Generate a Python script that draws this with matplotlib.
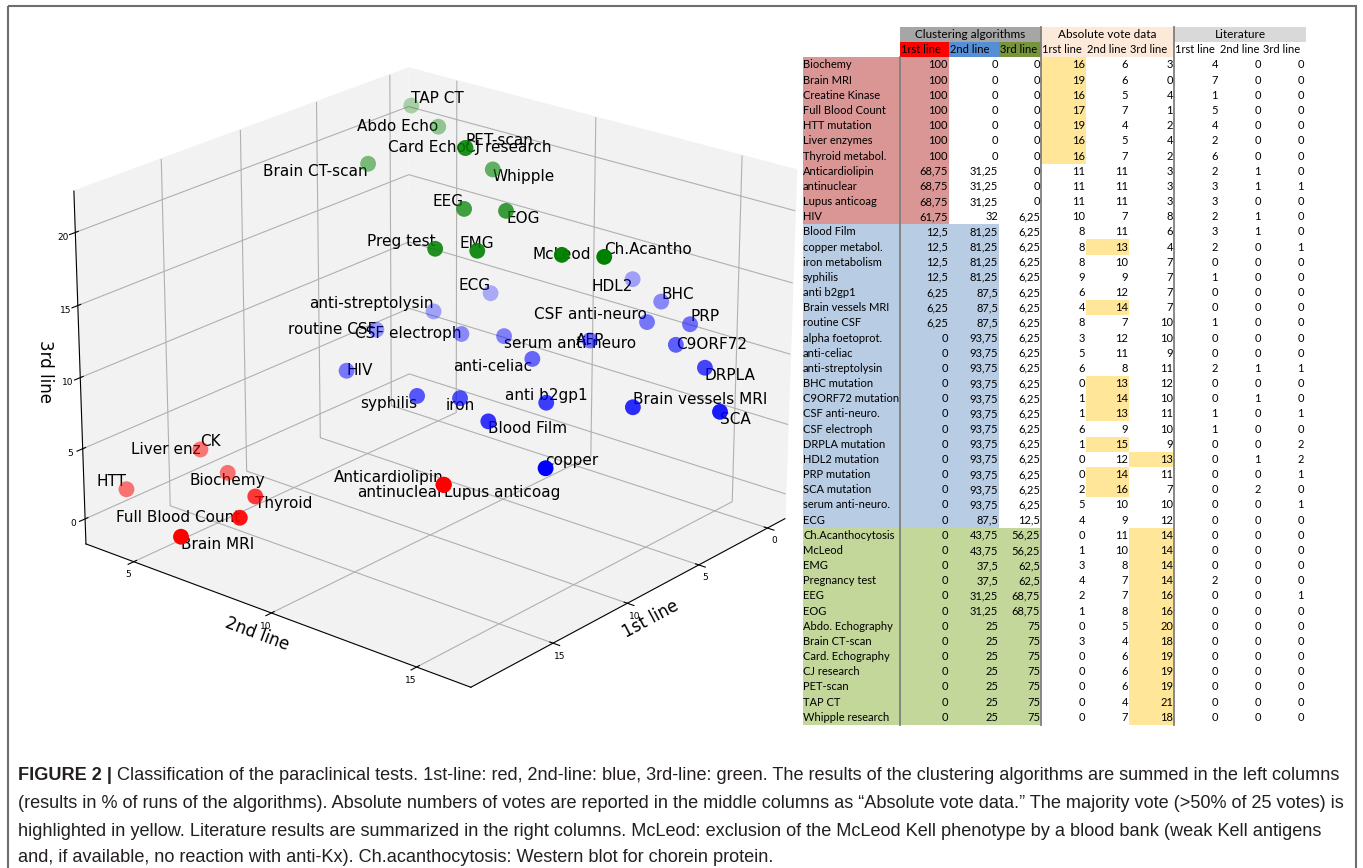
import numpy as np
import matplotlib
matplotlib.use('Agg')
from matplotlib import pyplot as plt
from matplotlib.patches import Rectangle

# Dati: voti assoluti (1st, 2nd, 3rd line) e risultati clustering / letteratura
names = ['Biochemy', 'Brain MRI', 'Creatine Kinase', 'Full Blood Count', 'HTT mutation',
         'Liver enzymes', 'Thyroid metabol.', 'Anticardiolipin', 'antinuclear',
         'Lupus anticoag', 'HIV', 'Blood Film', 'copper metabol.', 'iron metabolism',
         'syphilis', 'anti b2gp1', 'Brain vessels MRI', 'routine CSF', 'alpha foetoprot.',
         'anti-celiac', 'anti-streptolysin', 'BHC mutation', 'C9ORF72 mutation',
         'CSF anti-neuro.', 'CSF electroph', 'DRPLA mutation', 'HDL2 mutation',
         'PRP mutation', 'SCA mutation', 'serum anti-neuro.', 'ECG', 'Ch.Acanthocytosis',
         'McLeod', 'EMG', 'Pregnancy test', 'EEG', 'EOG', 'Abdo. Echography',
         'Brain CT-scan', 'Card. Echography', 'CJ research', 'PET-scan', 'TAP CT',
         'Whipple research']
short = ['Biochemy', 'Brain MRI', 'CK', 'Full Blood Count', 'HTT', 'Liver enz', 'Thyroid',
         'Anticardiolipin', 'antinuclear', 'Lupus anticoag', 'HIV', 'Blood Film', 'copper',
         'iron', 'syphilis', 'anti b2gp1', 'Brain vessels MRI', 'routine CSF', 'AFP',
         'anti-celiac', 'anti-streptolysin', 'BHC', 'C9ORF72', 'CSF anti-neuro',
         'CSF electroph', 'DRPLA', 'HDL2', 'PRP', 'SCA', 'serum anti-neuro', 'ECG',
         'Ch.Acantho', 'McLeod', 'EMG', 'Preg test', 'EEG', 'EOG', 'Abdo Echo',
         'Brain CT-scan', 'Card Echo', 'CJ research', 'PET-scan', 'TAP CT', 'Whipple']
clust1 = [100, 100, 100, 100, 100, 100, 100, 68.75, 68.75, 68.75, 61.75, 12.5, 12.5, 12.5,
          12.5, 6.25, 6.25, 6.25, 0, 0, 0, 0, 0, 0, 0, 0, 0, 0, 0, 0, 0, 0, 0, 0, 0, 0, 0,
          0, 0, 0, 0, 0, 0, 0]
clust2 = [0, 0, 0, 0, 0, 0, 0, 31.25, 31.25, 31.25, 32, 81.25, 81.25, 81.25, 81.25, 87.5,
          87.5, 87.5, 93.75, 93.75, 93.75, 93.75, 93.75, 93.75, 93.75, 93.75, 93.75, 93.75,
          93.75, 93.75, 87.5, 43.75, 43.75, 37.5, 37.5, 31.25, 31.25, 25, 25, 25, 25, 25,
          25, 25]
clust3 = [0, 0, 0, 0, 0, 0, 0, 0, 0, 0, 6.25, 6.25, 6.25, 6.25, 6.25, 6.25, 6.25, 6.25,
          6.25, 6.25, 6.25, 6.25, 6.25, 6.25, 6.25, 6.25, 6.25, 6.25, 6.25, 6.25, 12.5,
          56.25, 56.25, 62.5, 62.5, 68.75, 68.75, 75, 75, 75, 75, 75, 75, 75]
vote1 = [16, 19, 16, 17, 19, 16, 16, 11, 11, 11, 10, 8, 8, 8, 9, 6, 4, 8, 3, 5, 6, 0, 1, 1,
         6, 1, 0, 0, 2, 5, 4, 0, 1, 3, 4, 2, 1, 0, 3, 0, 0, 0, 0, 0]
vote2 = [6, 6, 5, 7, 4, 5, 7, 11, 11, 11, 7, 11, 13, 10, 9, 12, 14, 7, 12, 11, 8, 13, 14, 13,
         9, 15, 12, 14, 16, 10, 9, 11, 10, 8, 7, 7, 8, 5, 4, 6, 6, 6, 4, 7]
vote3 = [3, 0, 4, 1, 2, 4, 2, 3, 3, 3, 8, 6, 4, 7, 7, 7, 7, 10, 10, 9, 11, 12, 10, 11, 10,
         9, 13, 11, 7, 10, 12, 14, 14, 14, 14, 16, 16, 20, 18, 19, 19, 19, 21, 18]
lit1 = [4, 7, 1, 5, 4, 2, 6, 2, 3, 3, 2, 3, 2, 0, 1, 0, 0, 1, 0, 0, 2, 0, 0, 1, 1, 0, 0, 0,
        0, 0, 0, 0, 0, 0, 2, 0, 0, 0, 0, 0, 0, 0, 0, 0]
lit2 = [0, 0, 0, 0, 0, 0, 0, 1, 1, 0, 1, 1, 0, 0, 0, 0, 0, 0, 0, 0, 1, 0, 1, 0, 0, 0, 1, 0,
        2, 0, 0, 0, 0, 0, 0, 0, 0, 0, 0, 0, 0, 0, 0, 0]
lit3 = [0, 0, 0, 0, 0, 0, 0, 0, 1, 0, 0, 0, 1, 0, 0, 0, 0, 0, 0, 0, 1, 0, 0, 1, 0, 2, 2, 1,
        0, 1, 0, 0, 0, 0, 0, 1, 0, 0, 0, 0, 0, 0, 0, 0]
# gruppo nella tabella (0=1st, 1=2nd, 2=3rd) e gruppo nel grafico (HIV blu nel grafico)
table_group = [0] * 11 + [1] * 20 + [2] * 13
plot_group = [0] * 10 + [1] * 21 + [2] * 13

# allineamento etichette nel grafico 3D
label_align = {
    'Biochemy': ('center', 'top'), 'Brain MRI': ('left', 'top'), 'CK': ('left', 'bottom'),
    'Full Blood Count': ('right', 'center'), 'HTT': ('right', 'bottom'),
    'Liver enz': ('right', 'center'), 'Thyroid': ('left', 'top'),
    'Anticardiolipin': ('right', 'bottom'), 'antinuclear': ('right', 'top'),
    'Lupus anticoag': ('left', 'top'), 'HIV': ('left', 'center'),
    'Blood Film': ('left', 'top'), 'copper': ('left', 'bottom'), 'iron': ('center', 'top'),
    'syphilis': ('right', 'top'), 'anti b2gp1': ('center', 'bottom'),
    'Brain vessels MRI': ('left', 'bottom'), 'routine CSF': ('right', 'center'),
    'AFP': ('center', 'center'), 'anti-celiac': ('right', 'top'),
    'anti-streptolysin': ('right', 'bottom'), 'BHC': ('left', 'bottom'),
    'C9ORF72': ('left', 'center'), 'CSF anti-neuro': ('right', 'bottom'),
    'CSF electroph': ('right', 'center'), 'DRPLA': ('left', 'top'), 'HDL2': ('right', 'top'),
    'PRP': ('left', 'bottom'), 'SCA': ('left', 'top'), 'serum anti-neuro': ('left', 'top'),
    'ECG': ('right', 'bottom'), 'Ch.Acantho': ('left', 'bottom'), 'McLeod': ('center', 'center'),
    'EMG': ('center', 'bottom'), 'Preg test': ('right', 'bottom'), 'EEG': ('right', 'bottom'),
    'EOG': ('left', 'top'), 'Abdo Echo': ('right', 'center'), 'Brain CT-scan': ('right', 'top'),
    'Card Echo': ('right', 'center'), 'CJ research': ('left', 'center'),
    'PET-scan': ('left', 'bottom'), 'TAP CT': ('left', 'bottom'), 'Whipple': ('left', 'top')}

fig = plt.figure(figsize=(13.63, 8.68), dpi=100)

# Grafico 3D
ax = fig.add_axes([-0.0196, 0.123, 0.666, 0.903], projection='3d')
v1 = np.array(vote1)
v2 = np.array(vote2)
v3 = np.array(vote3)
pg = np.array(plot_group)
for g, c in zip(range(3), ['r', 'b', 'g']):
    m = pg == g
    ax.scatter(v1[m], v2[m], v3[m], c=c, s=130, depthshade=True, edgecolors='none')
for i, lab in enumerate(short):
    ha, va = label_align[lab]
    ax.text(v1[i], v2[i], v3[i], lab, ha=ha, va=va, fontsize=11, zorder=1)
ax.view_init(elev=22, azim=40)
ax.set_xlim(-1.3, 20.3)
ax.set_ylim(3.2, 16.8)
ax.set_zlim(-1.8, 22.8)
ax.set_xticks([0, 5, 10, 15])
ax.set_yticks([5, 10, 15])
ax.set_zticks([0, 5, 10, 15, 20])
ax.tick_params(labelsize=6.5, pad=-3)
ax.set_xlabel('1st line', fontsize=12, labelpad=-9)
ax.set_ylabel('2nd line', fontsize=12, labelpad=-9)
for a in (ax.xaxis, ax.yaxis, ax.zaxis):
    a.set_pane_color((0.95, 0.95, 0.95, 1.0))

# Tabella, cornice e didascalia in coordinate pixel
at = fig.add_axes([0, 0, 1, 1])
at.set_xlim(0, 1363)
at.set_ylim(868, 0)
at.axis('off')

at.text(45, 372, '3rd line', rotation=270, fontsize=12, ha='center', va='center')

tfont = 'Lato'
fs = 8
row_h = 15.17
y0 = 57.4
col_l = [803, 900, 949, 999, 1041, 1086, 1129, 1174, 1219, 1262]
col_r = [900, 949, 999, 1041, 1086, 1129, 1174, 1219, 1262, 1305]
grp_col = ['#DA9694', '#B8CCE4', '#C4D79B']
n = len(names)

def fmt(v):
    return ('%g' % v).replace('.', ',')

# intestazioni
at.add_patch(Rectangle((900, 27), 141, 15, fc='#A6A6A6', ec='none'))
at.add_patch(Rectangle((1041, 27), 133, 30, fc='#FDE9D9', ec='none'))
at.add_patch(Rectangle((1174, 27), 132, 15, fc='#D9D9D9', ec='none'))
for x, w, c in [(900, 49, '#FF0000'), (949, 50, '#558ED5'), (999, 42, '#77933C')]:
    at.add_patch(Rectangle((x, 42), w, 15, fc=c, ec='none'))
at.text(970.5, 35, 'Clustering algorithms', ha='center', va='center', fontsize=fs + 0.5,
        family=tfont)
at.text(1107.5, 35, 'Absolute vote data', ha='center', va='center', fontsize=fs + 0.5,
        family=tfont)
at.text(1240, 35, 'Literature', ha='center', va='center', fontsize=fs + 0.5, family=tfont)
for k in range(1, 10):
    lab = ['1rst line', '2nd line', '3rd line'][(k - 1) % 3]
    at.text(col_l[k] + 1, 49.5, lab, ha='left', va='center', fontsize=fs, family=tfont)

# righe
for i in range(n):
    yt = y0 + i * row_h
    yc = yt + row_h / 2
    g = table_group[i]
    ncols = g + 2
    at.add_patch(Rectangle((col_l[0], yt), col_r[ncols - 1] - col_l[0], row_h,
                           fc=grp_col[g], ec='none'))
    votes = [vote1[i], vote2[i], vote3[i]]
    for k, v in enumerate(votes):
        if v >= 13:
            at.add_patch(Rectangle((col_l[4 + k], yt), col_r[4 + k] - col_l[4 + k], row_h,
                                   fc='#FFE699', ec='none'))
    at.text(col_l[0], yc, names[i], ha='left', va='center', fontsize=fs, family=tfont)
    vals = [fmt(clust1[i]), fmt(clust2[i]), fmt(clust3[i])] + [str(v) for v in votes] + \
           [str(lit1[i]), str(lit2[i]), str(lit3[i])]
    for k, s in enumerate(vals):
        at.text(col_r[k + 1] - 1, yc, s, ha='right', va='center', fontsize=fs, family=tfont)

yb = y0 + n * row_h
at.plot([899.5, 899.5], [y0, yb], color='#7F7F7F', lw=1.3)
at.plot([1041, 1041], [27, yb], color='#7F7F7F', lw=1.3)
at.plot([1174, 1174], [27, yb], color='#7F7F7F', lw=1.3)

# cornice
at.add_patch(Rectangle((8, 6), 1348, 880, fc='none', ec='#6E6E6E', lw=1.5, clip_on=False))

# didascalia
cfont = 'Liberation Sans'
cfs = 13.1
lines = ['Classification of the paraclinical tests. 1st-line: red, 2nd-line: blue, 3rd-line: '
         'green. The results of the clustering algorithms are summed in the left columns',
         '(results in % of runs of the algorithms). Absolute numbers of votes are reported in '
         'the middle columns as \u201cAbsolute vote data.\u201d The majority vote (>50% of 25 votes) is',
         'highlighted in yellow. Literature results are summarized in the right columns. McLeod: '
         'exclusion of the McLeod Kell phenotype by a blood bank (weak Kell antigens',
         'and, if available, no reaction with anti-Kx). Ch.acanthocytosis: Western blot for '
         'chorein protein.']
line_y = [775, 803, 831, 857]
bold = at.text(18, line_y[0], 'FIGURE 2 | ', ha='left', va='center', fontsize=cfs,
               family=cfont, weight='bold', color='#231F20')
r = fig.canvas.get_renderer()
xb = bold.get_window_extent(r).x1
at.text(xb, line_y[0], lines[0], ha='left', va='center', fontsize=cfs, family=cfont,
        color='#231F20')
for s, yy in zip(lines[1:], line_y[1:]):
    at.text(18, yy, s, ha='left', va='center', fontsize=cfs, family=cfont, color='#231F20')

fig.savefig('out.png', dpi=100)
